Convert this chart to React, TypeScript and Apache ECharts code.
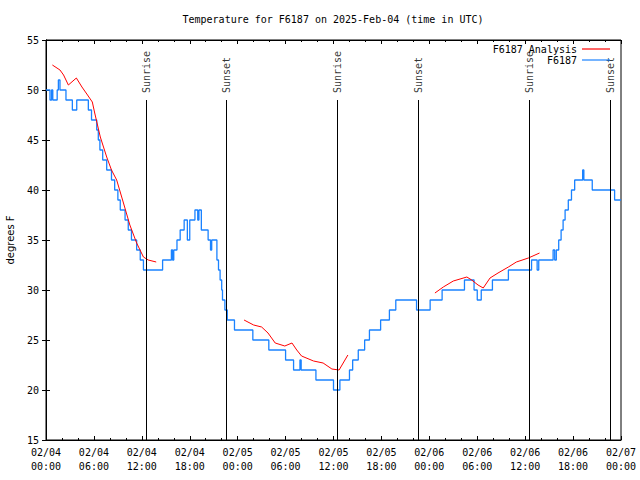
import React, { useEffect, useRef } from "react";
import * as echarts from "echarts";

// Hours since 2025-02-04 00:00 UTC
const tickHours = [0, 6, 12, 18, 24, 30, 36, 42, 48, 54, 60, 66, 72];
const yTicks = [15, 20, 25, 30, 35, 40, 45, 50, 55];

// F6187 observations: [hour, degF] (value holds until next point)
const obsF6187: [number, number][] = [
  [0, 50], [0.5, 49], [0.7, 50], [0.85, 49], [1.4, 50], [1.55, 51], [1.75, 50],
  [2.5, 49], [3.3, 48], [3.85, 49], [5.3, 48], [5.7, 47], [6.35, 46], [6.55, 45],
  [6.75, 44], [7.1, 43], [7.6, 42], [8.2, 41], [8.6, 40], [9.0, 39], [9.3, 38],
  [9.9, 37], [10.3, 36], [10.7, 35], [11.35, 34], [11.8, 33], [12.2, 32],
  [14.6, 33], [15.7, 34], [15.85, 33], [16.0, 34], [16.4, 35], [16.8, 36],
  [17.3, 37], [17.7, 35], [18.0, 37], [18.65, 38], [19.0, 37], [19.15, 38],
  [19.45, 36], [20.3, 35], [20.6, 34], [20.75, 35], [21.4, 33], [21.6, 32],
  [21.8, 31], [22.0, 30], [22.1, 29], [22.4, 28], [22.7, 27], [23.6, 26],
  [25.9, 25], [27.9, 24], [30.0, 23], [31.0, 22], [31.8, 23], [31.95, 22],
  [33.8, 21], [36.0, 20], [36.8, 21], [38.0, 22], [38.4, 23], [39.1, 24],
  [39.9, 25], [40.5, 26], [41.9, 27], [43.0, 28], [43.8, 29], [46.4, 28],
  [48.1, 29], [49.6, 30], [52.4, 31], [53.6, 30], [54.0, 29], [54.5, 30],
  [55.9, 31], [57.9, 32], [60.8, 33], [61.5, 32], [61.7, 33], [63.5, 34],
  [63.7, 33], [63.9, 34], [64.2, 35], [64.5, 36], [64.75, 37], [65.0, 38],
  [65.4, 39], [65.8, 40], [66.2, 41], [67.2, 42], [67.35, 41], [68.4, 40],
  [71.2, 39], [72, 39],
];

// F6187 Analysis segments: [hour, degF]
const analysisSeg1: [number, number][] = [
  [0.8, 52.5], [1.75, 52], [2.2, 51.5], [2.8, 50.5], [3.8, 51.2], [4.5, 50.3],
  [5.2, 49.5], [5.8, 48.8], [6.1, 47.7], [6.8, 45.3], [7.6, 43.3], [8.2, 42],
  [8.85, 41], [9.7, 38.7], [10.5, 36.5], [11.35, 34.7], [12.2, 33.3],
  [12.8, 33], [13.8, 32.8],
];
const analysisSeg2: [number, number][] = [
  [24.8, 27], [26.0, 26.5], [27.0, 26.3], [27.8, 25.7], [28.7, 24.7],
  [29.9, 24.4], [30.8, 24.7], [31.4, 24], [32.0, 23.4], [33.5, 22.9],
  [34.7, 22.7], [35.8, 22.1], [36.7, 22], [37.8, 23.5],
];
const analysisSeg3: [number, number][] = [
  [48.7, 29.7], [49.75, 30.3], [51.0, 30.9], [52.7, 31.3], [53.3, 31],
  [54.1, 30.5], [54.75, 30.2], [55.6, 31.2], [56.6, 31.7], [57.9, 32.3],
  [58.9, 32.8], [60.4, 33.2], [61.8, 33.7],
];

const sunriseHours = [12.6, 36.47, 60.52];
const sunsetHours = [22.55, 46.62, 70.7];
const markerBottom = 15;
const markerTop = 49;

const MONO = "DejaVu Sans Mono";
const RED = "#ff0000";
const BLUE = "#1a82ff";

function fmtHour(v: number) {
  const d = 4 + Math.floor(v / 24);
  const hh = v % 24;
  return `02/0${d}\n${String(hh).padStart(2, "0")}:00`;
}

export default function App() {
  const ref = useRef<HTMLDivElement>(null);
  useEffect(() => {
    if (!ref.current) return;
    const chart = echarts.init(ref.current, undefined, { renderer: "svg" });
    const xMin = tickHours[0];
    const xMax = tickHours[tickHours.length - 1];
    const yMin = yTicks[0];
    const yMax = yTicks[yTicks.length - 1];
    const baseX = {
      type: "value" as const,
      min: xMin,
      max: xMax,
      interval: 6,
      splitLine: { show: false },
      axisLine: { show: true, lineStyle: { color: "#000", width: 1 } },
      axisTick: { show: true, inside: true, length: 4, lineStyle: { color: "#000" } },
      minorTick: { show: true, splitNumber: 3, length: 2, lineStyle: { color: "#000" } },
    };
    const baseY = {
      type: "value" as const,
      min: yMin,
      max: yMax,
      interval: 5,
      splitLine: { show: false },
      axisLine: { show: true, lineStyle: { color: "#000", width: 1 } },
      axisTick: { show: true, inside: true, length: 4, lineStyle: { color: "#000" } },
    };
    const sunLabel = (txt: string) => ({
      show: true,
      formatter: txt,
      rotate: 90,
      position: [0, -7],
      align: "left",
      verticalAlign: "middle",
      fontFamily: MONO,
      fontSize: 10,
      color: "#000",
    });
    const redSeries = [analysisSeg1, analysisSeg2, analysisSeg3].map((seg) => ({
      name: "F6187 Analysis",
      type: "line",
      data: seg,
      showSymbol: false,
      symbol: "none",
      lineStyle: { color: RED, width: 1 },
      itemStyle: { color: RED },
      z: 3,
    }));
    chart.setOption({
      animation: false,
      backgroundColor: "#fff",
      grid: { left: 46, right: 19, top: 40, bottom: 40, show: true, borderColor: "#000", borderWidth: 1 },
      graphic: [
        {
          type: "text",
          x: 333,
          y: 19,
          style: {
            text: "Temperature for F6187 on 2025-Feb-04 (time in UTC)",
            fontFamily: MONO,
            fontSize: 10,
            fill: "#000",
            align: "center",
            verticalAlign: "middle",
          },
        },
        {
          type: "text",
          x: 10,
          y: 240,
          rotation: Math.PI / 2,
          style: {
            text: "degrees F",
            fontFamily: "DejaVu Sans",
            fontSize: 10,
            fill: "#000",
            align: "center",
            verticalAlign: "middle",
          },
        },
      ],
      legend: {
        data: [
          { name: "F6187 Analysis", icon: "rect", itemStyle: { color: RED } },
          { name: "F6187", icon: "rect", itemStyle: { color: BLUE } },
        ],
        orient: "vertical",
        right: 30,
        top: 44,
        align: "right",
        itemWidth: 28,
        itemHeight: 1.2,
        itemGap: 1,
        padding: 0,
        textStyle: { fontFamily: MONO, fontSize: 10, color: "#000" },
      },
      xAxis: [
        {
          ...baseX,
          position: "bottom",
          axisLabel: {
            formatter: fmtHour,
            fontFamily: MONO,
            fontSize: 10,
            color: "#000",
            lineHeight: 14,
            margin: 5,
          },
        },
        { ...baseX, position: "top", axisLabel: { show: false } },
      ],
      yAxis: [
        {
          ...baseY,
          position: "left",
          axisLabel: { fontFamily: MONO, fontSize: 10, color: "#000", margin: 7 },
        },
        { ...baseY, position: "right", axisLabel: { show: false } },
      ],
      series: [
        ...redSeries,
        {
          name: "F6187",
          type: "line",
          step: "end",
          data: obsF6187,
          showSymbol: false,
          symbol: "none",
          lineStyle: { color: BLUE, width: 1.3 },
          itemStyle: { color: BLUE },
          z: 2,
        },
        {
          type: "scatter",
          data: sunriseHours.map((h) => [h, markerTop]),
          symbolSize: 0,
          silent: true,
          label: sunLabel("Sunrise"),
          markLine: {
            silent: true,
            symbol: ["none", "none"],
            label: { show: false },
            lineStyle: { color: "#000", width: 1, type: "solid" },
            data: [...sunriseHours, ...sunsetHours].map((h) => [
              { coord: [h, markerBottom] },
              { coord: [h, markerTop] },
            ]),
          },
        },
        {
          type: "scatter",
          data: sunsetHours.map((h) => [h, markerTop]),
          symbolSize: 0,
          silent: true,
          label: sunLabel("Sunset"),
        },
      ],
    });
    return () => chart.dispose();
  }, []);
  return (
    <div
      ref={ref}
      style={{ position: "fixed", left: 0, top: 0, width: 640, height: 480, background: "#fff" }}
    />
  );
}
